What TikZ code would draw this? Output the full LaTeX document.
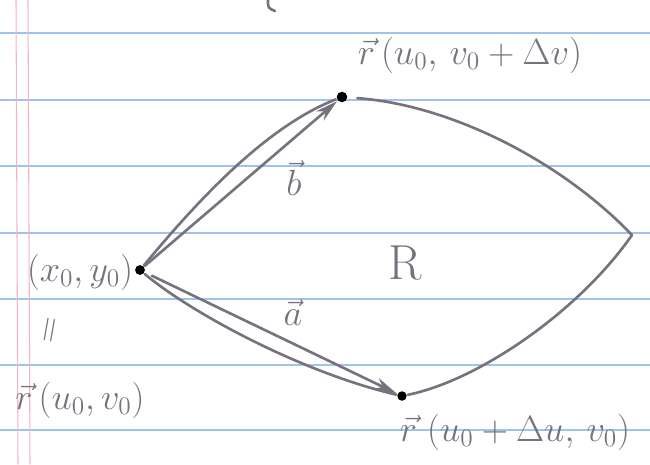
\documentclass[tikz,border=0pt]{standalone}
\usepackage{amsmath}
\usetikzlibrary{arrows.meta}
\definecolor{pencil}{RGB}{118,114,126}
\definecolor{ruleblue}{RGB}{158,196,238}
\definecolor{marginpink}{RGB}{242,180,195}

\begin{document}
\begin{tikzpicture}[x=0.02cm, y=-0.02cm, line width=1.5pt, line cap=round,
  dotpt/.style={circle, fill=black, inner sep=0pt, minimum size=4.6pt},
  lbl/.style={text=pencil, font=\fontsize{21}{25}\selectfont},
  vecarrow/.style={pencil, -{Stealth[length=4.5mm, width=2.4mm]}},
  border/.style={pencil}]
  % paper
  \useasboundingbox (0,0) rectangle (650,464);
  \fill[white] (0,0) rectangle (650,464);
  \foreach \y in {33,100,166,233,299,365,430}{
    \draw[ruleblue, line width=0.8pt] (0,\y) -- (650,\y);
  }
  \foreach \x in {16,28}{
    \draw[marginpink, line width=0.6pt] (\x,0) -- (\x+2,464);
  }

  % cut-off stroke at the top
  \draw[pencil] (268,0) .. controls (268,8) .. (275,11);

  % corner points
  \node[dotpt, minimum size=5.6pt] (p0) at (140,270) {};
  \node[dotpt, minimum size=6pt] (pv) at (342,97) {};
  \node[dotpt, minimum size=5.4pt] (pu) at (402,396) {};
  \coordinate (corner) at (632,235);

  % region R boundary
  \draw[border] (p0) .. controls (190,210) and (262,128) .. (pv);
  \draw[border, shorten <=5pt] (pv) .. controls (450,105) and (560,160) .. (corner);
  \draw[border] (corner) .. controls (580,310) and (480,380) .. (pu);
  \draw[border] (p0) .. controls (190,312) and (300,372) .. (pu);

  % vectors a and b
  \draw[vecarrow] (p0) -- (pv);
  \draw[vecarrow, shorten <=4pt] (p0) -- (pu);

  % labels
  \node[lbl] (lv) at (470,55) {$\vec{r}\,(u_0,\,v_0+\Delta v)$};
  \node[lbl] (lb) at (294,178) {$\vec{b}$};
  \node[lbl, font=\fontsize{28}{32}\selectfont] (lR) at (405,263) {R};
  \node[lbl] (la) at (293,313) {$\vec{a}$};
  \node[lbl] (l0) at (80,272) {$(x_0,y_0)$};
  \node[lbl, rotate=80] (leq) at (52,330) {$=$};
  \node[lbl] (lr0) at (80,400) {$\vec{r}\,(u_0,v_0)$};
  \node[lbl] (lu) at (515,432) {$\vec{r}\;(u_0+\Delta u,\,v_0)$};
\end{tikzpicture}
\end{document}
